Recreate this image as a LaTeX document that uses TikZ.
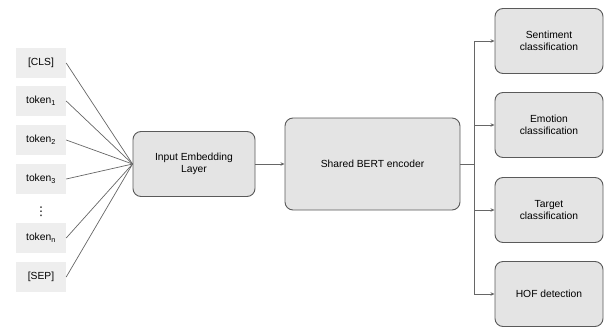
\documentclass[tikz,border=0pt]{standalone}
\usepackage{fontspec}
\setmainfont{Liberation Sans}
\newfontfamily\symfont{DejaVu Sans}
\usetikzlibrary{arrows.meta}
\definecolor{boxfill}{HTML}{E4E4E4}
\definecolor{tokfill}{HTML}{EEEEEE}
\definecolor{edge}{HTML}{5A5A5A}
\definecolor{wire}{HTML}{666666}
\begin{document}
\begin{tikzpicture}[x=1pt,y=-1pt,
  font=\fontsize{10.3}{12}\selectfont,
  tok/.style={fill=tokfill,minimum width=50pt,minimum height=30pt,inner sep=0pt},
  block/.style={draw=edge,fill=boxfill,line width=0.9pt,rounded corners=8pt,
    align=center,inner sep=2pt},
  wireline/.style={draw=wire,line width=0.7pt},
  arr/.style={draw=wire,line width=0.8pt,-{Stealth[length=4pt,width=3.5pt]}}]
\useasboundingbox (0,0) rectangle (605,327);

% input tokens
\node[tok] (cls) at (41,63) {[CLS]};
\node[tok] (t1) at (41,101) {token\textsubscript{1}};
\node[tok] (t2) at (41,140) {token\textsubscript{2}};
\node[tok] (t3) at (41,179) {token\textsubscript{3}};
\node[inner sep=0pt] (dots) at (41,212) {\symfont\fontsize{12}{12}\selectfont ⋮};
\node[tok] (tn) at (41,238) {token\textsubscript{n}};
\node[tok] (sep) at (41,277) {[SEP]};

% blocks
\node[block,minimum width=122pt,minimum height=65pt] (emb) at (194,164) {Input Embedding\\Layer};
\node[block,minimum width=175pt,minimum height=92pt] (bert) at (372.5,164) {Shared BERT encoder};

\node[block,minimum width=108pt,minimum height=65pt] (sent) at (549,41) {Sentiment\\classification};
\node[block,minimum width=108pt,minimum height=65pt] (emo) at (549,125) {Emotion\\classification};
\node[block,minimum width=108pt,minimum height=65pt] (targ) at (549,210) {Target\\classification};
\node[block,minimum width=108pt,minimum height=65pt] (hof) at (549,294) {HOF detection};

% token connectors
\foreach \t in {cls,t1,t2,t3,tn,sep}
  \draw[wireline] (\t.east) -- (emb.west);

% main flow
\draw[arr] (emb.east) -- (bert.west);
\coordinate (bus) at (474,164);
\draw[wireline] (bert.east) -- (bus);
\foreach \h in {sent,emo,targ,hof}
  \draw[arr] (bus) |- (\h.west);
\end{tikzpicture}
\end{document}
